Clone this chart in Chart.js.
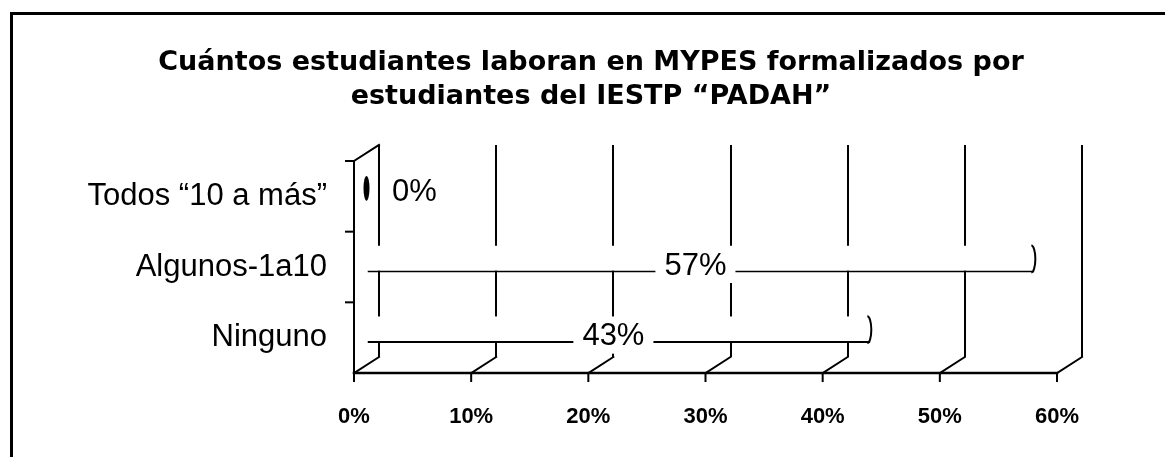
<!DOCTYPE html>
<html>
<head>
<meta charset="utf-8">
<script src="https://cdn.jsdelivr.net/npm/chart.js@4.4.1/dist/chart.umd.min.js"></script>
<style>
  html, body { margin: 0; padding: 0; background: #fff; }
  #wrap { position: relative; width: 1165px; height: 457px; overflow: hidden; }
  #frame { position: absolute; left: 10px; top: 12px; width: 1200px; height: 500px;
           border-left: 3px solid #000; border-top: 3px solid #000; }
  canvas { position: absolute; left: 0; top: 0; }
</style>
</head>
<body>
<div id="wrap">
  <div id="frame"></div>
  <canvas id="chart" width="1165" height="457"></canvas>
</div>
<script>
// -- data ---------------------------------------------------------------
const TITLE_LINES = ['Cuántos estudiantes laboran en MYPES formalizados por',
                     'estudiantes del IESTP “PADAH”'];
const CATEGORIES = ['Todos “10 a más”', 'Algunos-1a10', 'Ninguno'];
const PERCENTS = [0, 57, 43];
const X_TICKS = [0, 10, 20, 30, 40, 50, 60];

// -- look ---------------------------------------------------------------
const INK = '#000';
// back wall sits DEPTH px right/up of the front plane
const DEPTH = { x: 25, y: -16 };
const LABEL_FONT = "31px 'Liberation Sans', Arial, sans-serif";

// fake 3-D box: bars pushed to mid depth, floor + front axes drawn by hand
const box3d = {
  id: 'box3d',
  beforeDatasetsDraw(chart) {
    chart.ctx.save();
    chart.ctx.translate(-DEPTH.x / 2, -DEPTH.y / 2);
  },
  afterDatasetsDraw(chart) {
    const ctx = chart.ctx;
    const bars = chart.getDatasetMeta(0).data;

    // rounded end faces (solid when the bar has no length)
    ctx.strokeStyle = INK;
    ctx.fillStyle = INK;
    ctx.lineWidth = 2;
    bars.forEach((bar, i) => {
      const ry = bar.height / 2;
      ctx.beginPath();
      if (PERCENTS[i] === 0) {
        ctx.ellipse(bar.x, bar.y, 3, ry - 1, 0, 0, Math.PI * 2);
        ctx.fill();
      } else {
        ctx.ellipse(bar.x - 3, bar.y, 4, ry, 0, -Math.PI / 2, Math.PI / 2);
        ctx.stroke();
      }
    });
    ctx.restore();

    // value labels on a white patch
    ctx.save();
    ctx.font = LABEL_FONT;
    ctx.textBaseline = 'middle';
    ctx.textAlign = 'left';
    bars.forEach((bar, i) => {
      const txt = PERCENTS[i] + '%';
      const w = ctx.measureText(txt).width;
      const len = bar.x - bar.base;
      let tx, ty;
      if (len > w + 30) {
        tx = (bar.base + bar.x) / 2 - 18 - w / 2;
        ty = bar.y + 15;
      } else {
        tx = bar.x + 13;
        ty = bar.y + 12;
      }
      ctx.fillStyle = '#fff';
      ctx.fillRect(tx - 9, ty - 17, w + 18, 34);
      ctx.fillStyle = INK;
      ctx.fillText(txt, tx, ty);
    });
    ctx.restore();
  },
  afterDraw(chart) {
    const ctx = chart.ctx;
    const xs = chart.scales.x, ys = chart.scales.y;
    const { top, bottom, left } = chart.chartArea;
    const fLeft = left - DEPTH.x;
    const fTop = top - DEPTH.y;
    const fBottom = bottom - DEPTH.y;
    const band = (bottom - top) / CATEGORIES.length;

    ctx.save();
    ctx.strokeStyle = INK;
    ctx.lineCap = 'square';

    // floor: front edge, depth lines, front ticks
    ctx.lineWidth = 2.5;
    ctx.beginPath();
    ctx.moveTo(xs.getPixelForValue(X_TICKS[0]) - DEPTH.x, fBottom);
    ctx.lineTo(xs.getPixelForValue(X_TICKS[X_TICKS.length - 1]) - DEPTH.x, fBottom);
    ctx.stroke();
    ctx.lineWidth = 2;
    X_TICKS.forEach(v => {
      const bx = xs.getPixelForValue(v);
      ctx.beginPath();
      ctx.moveTo(bx - DEPTH.x, fBottom);
      ctx.lineTo(bx, bottom);
      ctx.moveTo(bx - DEPTH.x, fBottom);
      ctx.lineTo(bx - DEPTH.x, fBottom + 8);
      ctx.stroke();
    });

    // left wall: front axis, top edge, category ticks
    ctx.beginPath();
    ctx.moveTo(fLeft, fBottom);
    ctx.lineTo(fLeft, fTop);
    ctx.lineTo(left, top);
    ctx.stroke();
    CATEGORIES.forEach((c, i) => {
      const yb = ys.getPixelForValue(i) - band / 2 - DEPTH.y;
      ctx.beginPath();
      ctx.moveTo(fLeft - 8, yb);
      ctx.lineTo(fLeft, yb);
      ctx.stroke();
    });
    ctx.restore();
  }
};

new Chart(document.getElementById('chart'), {
  type: 'bar',
  data: {
    labels: CATEGORIES,
    datasets: [{
      data: PERCENTS,
      backgroundColor: '#fff',
      borderColor: INK,
      borderWidth: { top: 0, right: 0, bottom: 2, left: 0 },
      borderSkipped: false,
      categoryPercentage: 1,
      barPercentage: 0.38,
      clip: false,
    }],
  },
  plugins: [box3d],
  options: {
    indexAxis: 'y',
    responsive: false,
    animation: false,
    layout: { padding: { left: 17, right: 0, top: 0, bottom: 0 } },
    plugins: {
      legend: { display: false },
      tooltip: { enabled: false },
      title: {
        display: true,
        text: TITLE_LINES,
        color: INK,
        font: { family: "'DejaVu Sans', sans-serif", size: 27, weight: 'bold', lineHeight: '34px' },
        padding: { top: 46, bottom: 31 },
      },
    },
    scales: {
      x: {
        min: X_TICKS[0],
        max: X_TICKS[X_TICKS.length - 1],
        grid: { color: INK, lineWidth: 2, drawTicks: false },
        border: { display: false },
        ticks: {
          stepSize: X_TICKS[1] - X_TICKS[0],
          color: INK,
          font: { family: "'Liberation Sans Narrow', 'Liberation Sans', sans-serif", size: 22, weight: 'bold' },
          padding: 47,
          labelOffset: -DEPTH.x,
          maxRotation: 0,
          callback: v => v + '%',
        },
        afterFit(s) { s.height = 100; },
      },
      y: {
        grid: { display: false, drawTicks: false },
        border: { display: false },
        ticks: {
          color: INK,
          font: { family: "'Liberation Sans', Arial, sans-serif", size: 31 },
          padding: 52,
          labelOffset: -DEPTH.y,
        },
        afterFit(s) { s.width = 362; },
      },
      // empty axis that only reserves room right of the box
      yPad: {
        axis: 'y',
        type: 'category',
        position: 'right',
        grid: { display: false },
        border: { display: false },
        ticks: { display: false },
        afterFit(s) { s.width = 83; },
      },
    },
  },
});
</script>
</body>
</html>
